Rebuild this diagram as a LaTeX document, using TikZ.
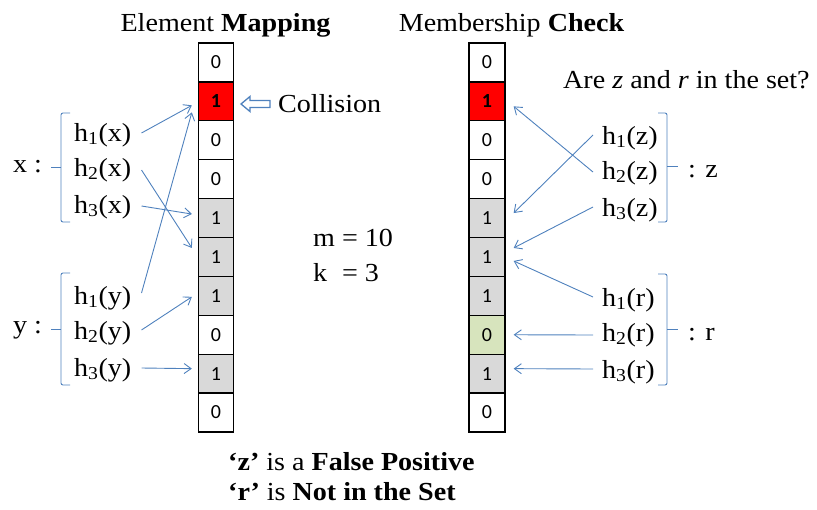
\documentclass[tikz,border=0pt]{standalone}
\usepackage{fontspec}
\setmainfont{Liberation Serif}[FakeStretch=1.08]
\newfontfamily\cellfont{Carlito}
\usetikzlibrary{arrows.meta,calc}
\definecolor{linkblue}{RGB}{79,129,189}
\definecolor{bitred}{RGB}{255,0,0}
\definecolor{bitgray}{RGB}{217,217,217}
\definecolor{bitgreen}{RGB}{215,228,189}
\tikzset{
  cell/.style={draw=black, line width=1.3pt, minimum width=35pt, minimum height=38.9pt,
    inner sep=0pt, font=\cellfont\fontsize{20}{20}\selectfont},
  lbl/.style={anchor=west, inner sep=0pt, font=\fontsize{26}{30}\selectfont},
  txt/.style={inner sep=0pt, font=\fontsize{26}{30}\selectfont},
  hash/.style={draw=linkblue, line width=0.9pt, -{Straight Barb[length=7pt,width=10pt]}},
  bracket/.style={draw=linkblue, line width=0.9pt, rounded corners=2pt},
}
\begin{document}
\begin{tikzpicture}[x=1pt,y=-1pt]
\useasboundingbox (0,0) rectangle (817,509);

% titles
\node[txt] (tmap) at (225.5,25) {Element \textbf{Mapping}};
\node[txt] (tchk) at (511.5,25) {Membership \textbf{Check}};

% bit arrays
\foreach \i/\v/\f in {0/0/white,1/1/bitred,2/0/white,3/0/white,4/1/bitgray,5/1/bitgray,6/1/bitgray,7/0/white,8/1/bitgray,9/0/white}{
  \node[cell, fill=\f] (L\i) at (216,{43+38.9*(\i+0.5)}) {\ifnum\i=1 \textbf{\v}\else\v\fi};
}
\foreach \i/\v/\f in {0/0/white,1/1/bitred,2/0/white,3/0/white,4/1/bitgray,5/1/bitgray,6/1/bitgray,7/0/bitgreen,8/1/bitgray,9/0/white}{
  \node[cell, fill=\f, minimum width=36pt] (R\i) at (487,{43+38.9*(\i+0.5)}) {\ifnum\i=1 \textbf{\v}\else\v\fi};
}

% collision marker
\draw[draw=linkblue, fill=white, line width=1.3pt, line join=miter]
  (241,104) -- (250,96.5) -- (250,100.5) -- (270,100.5) -- (270,107.5) -- (250,107.5) -- (250,111.5) -- cycle;
\node[lbl] (coll) at (278,104) {Collision};

% parameters
\node[txt, anchor=west] (params) at (313,257) {\def\arraystretch{1.17}\begin{tabular}{@{}l@{\ }l@{}}m & = 10\\ k & = 3\end{tabular}};

% hash labels, left side
\node[lbl] (hx1) at (74,135) {h\textsubscript{1}(x)};
\node[lbl] (hx2) at (74,170) {h\textsubscript{2}(x)};
\node[lbl] (hx3) at (74,207) {h\textsubscript{3}(x)};
\node[lbl] (hy1) at (74,298) {h\textsubscript{1}(y)};
\node[lbl] (hy2) at (74,333) {h\textsubscript{2}(y)};
\node[lbl] (hy3) at (74,370) {h\textsubscript{3}(y)};
\node[lbl] (ex) at (13,167) {x :};
\node[lbl] (ey) at (13,330) {y :};

% hash labels, right side
\node[txt, anchor=west] (query) at (563,80) {Are \textit{z} and \textit{r} in the set?};
\node[lbl] (hz1) at (602,138) {h\textsubscript{1}(z)};
\node[lbl] (hz2) at (602,173) {h\textsubscript{2}(z)};
\node[lbl] (hz3) at (602,210) {h\textsubscript{3}(z)};
\node[lbl] (hr1) at (602,300) {h\textsubscript{1}(r)};
\node[lbl] (hr2) at (602,335) {h\textsubscript{2}(r)};
\node[lbl] (hr3) at (602,372) {h\textsubscript{3}(r)};
\node[lbl] (ez) at (688,172) {: z};
\node[lbl] (er) at (688,335) {: r};

% brackets
\draw[bracket] (70,113) -- (61,113) -- (61,222) -- (70,222);
\draw[linkblue, line width=0.9pt] (61,167.5) -- (51,167.5);
\draw[bracket] (70,273) -- (61,273) -- (61,385) -- (70,385);
\draw[linkblue, line width=0.9pt] (61,329) -- (51,329);
\draw[bracket] (658,113) -- (667,113) -- (667,222) -- (658,222);
\draw[linkblue, line width=0.9pt] (667,166) -- (678,166);
\draw[bracket] (658,274) -- (667,274) -- (667,385) -- (658,385);
\draw[linkblue, line width=0.9pt] (667,329) -- (678,329);

% insertion of x and y
\draw[hash] ($(hx1.east)+(10,-2)$) -- ($(L1.west)+(-6,4)$);
\draw[hash] ($(hx2.east)+(10,0)$) -- ($(L5.west)+(-6,-9)$);
\draw[hash] ($(hx3.east)+(10,-1)$) -- ($(L4.west)+(-6,-4)$);
\draw[hash] ($(hy1.east)+(10,-5)$) -- ($(L1.west)+(-6,11)$);
\draw[hash] ($(hy2.east)+(10,-3)$) -- ($(L6.west)+(-6,1)$);
\draw[hash] ($(hy3.east)+(10,-2)$) -- ($(L8.west)+(-6,-5)$);

% lookup of z and r
\draw[hash] ($(hz1.west)+(-9,-3)$) -- ($(R4.east)+(8,-5)$);
\draw[hash] ($(hz2.west)+(-9,-1)$) -- ($(R1.east)+(8,5)$);
\draw[hash] ($(hz3.west)+(-9,-3)$) -- ($(R5.east)+(8,-9)$);
\draw[hash] ($(hr1.west)+(-9,-3)$) -- ($(R5.east)+(8,4)$);
\draw[hash] ($(hr2.west)+(-9,0)$) -- ($(R7.east)+(8,0)$);
\draw[hash] ($(hr3.west)+(-9,-3)$) -- ($(R8.east)+(8,-5)$);

% verdict
\node[txt, anchor=west] (v1) at (228,462) {\textbf{‘z’} is a \textbf{False Positive}};
\node[txt, anchor=west] (v2) at (228,492) {\textbf{‘r’} is \textbf{Not in the Set}};
\end{tikzpicture}
\end{document}
